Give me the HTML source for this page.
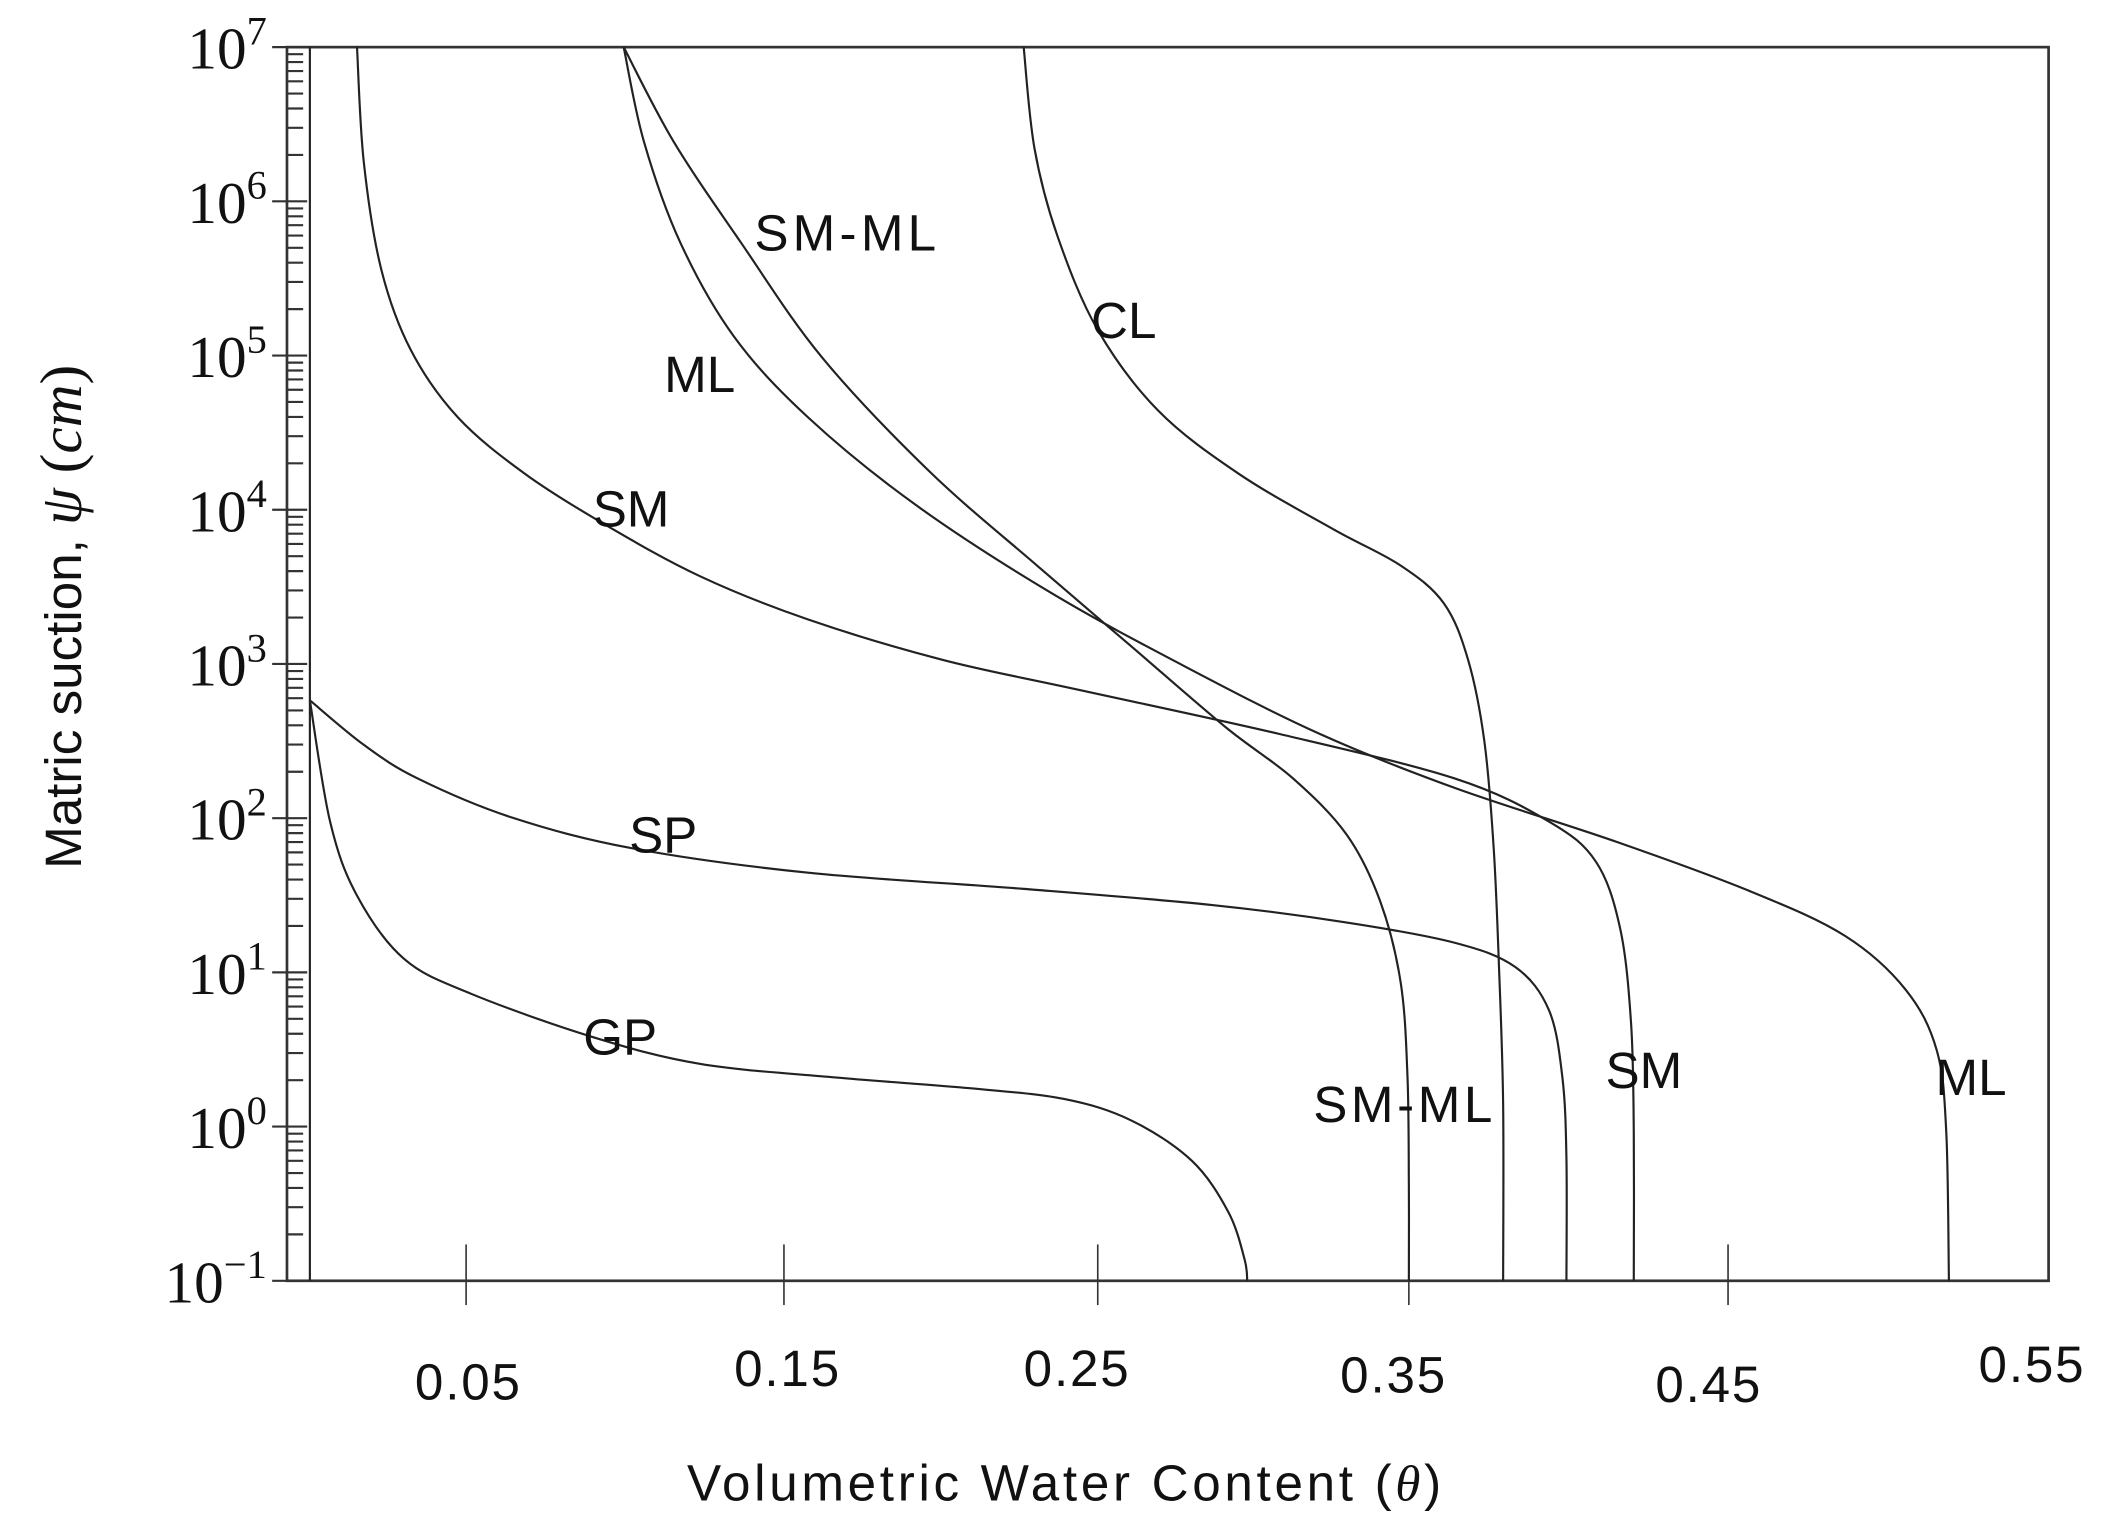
<!DOCTYPE html>
<html><head><meta charset="utf-8"><style>
html,body{margin:0;padding:0;background:#fff}
svg{display:block}
.s{font-family:"Liberation Sans",sans-serif;font-size:38px;fill:#111}
.r{font-family:"Liberation Serif",serif;fill:#111}
path{fill:none;stroke:#222;stroke-width:1.6}
</style></head><body>
<svg id="g" width="2112" height="1534" viewBox="0 0 1568 1139" xmlns="http://www.w3.org/2000/svg">
<rect x="213" y="35" width="1308" height="916" fill="none" stroke="#333" stroke-width="2"/>
<g id="ticks" stroke="#333" stroke-width="1.6"></g>
<line x1="230" y1="35" x2="230" y2="951" stroke="#222" stroke-width="1.6"/>
<g id="curves"></g>
<g class="s">
<text x="560" y="186" textLength="135">SM-ML</text>
<text x="810" y="251">CL</text>
<text x="493" y="291">ML</text>
<text x="440" y="391">SM</text>
<text x="467" y="633">SP</text>
<text x="433" y="783">GP</text>
<text x="975" y="833" textLength="133">SM-ML</text>
<text x="1192" y="808">SM</text>
<text x="1437" y="813">ML</text>
</g>
<g class="s" style="font-size:38px" text-anchor="middle">
<text x="347" y="1039" textLength="78">0.05</text><text x="584" y="1029" textLength="78">0.15</text><text x="799" y="1029" textLength="78">0.25</text>
<text x="1034" y="1034" textLength="78">0.35</text><text x="1268" y="1041" textLength="78">0.45</text><text x="1508" y="1026" textLength="78">0.55</text>
</g>
<text class="s" x="790" y="1114" text-anchor="middle" textLength="560" font-size="40">Volumetric Water Content (<tspan class="r" font-style="italic">θ</tspan>)</text>
<text class="s" font-size="40" transform="translate(60,458) rotate(-90)" text-anchor="middle">Matric suction, <tspan class="r" font-style="italic" font-size="44">ψ</tspan><tspan class="r" font-size="44"> (<tspan font-style="italic">cm</tspan>)</tspan></text>
<g id="yl" class="r" font-size="44" text-anchor="end"></g>
</svg>
<script>
var t=document.getElementById('ticks'),yl=document.getElementById('yl'),h='',l='';
function Y(e){return 35+(7-e)*114.5;}
for(var e=-1;e<=7;e++){var y=Y(e);h+='<line x1="202" y1="'+y+'" x2="228" y2="'+y+'"/>';
var sup=e<0?'\u22121':e;l+='<text x="198" y="'+(y+16)+'">10<tspan dy="-18" font-size="30">'+sup+'</tspan></text>';
if(e<7)for(var k=2;k<10;k++){var yy=Y(e+Math.log10(k));h+='<line x1="213" y1="'+yy+'" x2="225" y2="'+yy+'"/>';}}
[346,582,815,1046,1283].forEach(function(x){h+='<line x1="'+x+'" y1="924" x2="'+x+'" y2="969" stroke-width="1.2"/>';});
t.innerHTML=h;yl.innerHTML=l;
function cr(p){var d='M'+p[0][0]+','+p[0][1];for(var i=0;i<p.length-1;i++){var a=p[i-1]||p[i],b=p[i],c=p[i+1],n=p[i+2]||c;
d+=' C'+(b[0]+(c[0]-a[0])/6)+','+(b[1]+(c[1]-a[1])/6)+' '+(c[0]-(n[0]-b[0])/6)+','+(c[1]-(n[1]-b[1])/6)+' '+c[0]+','+c[1];}return '<path d="'+d+'"/>';}
var C=[
[[230,520],[245,610],[265,665],[300,712],[350,738],[440,770],[520,790],[620,800],[720,808],[790,816],[840,832],[885,862],[912,900],[924,935],[926,951]],
[[230,520],[270,553],[310,578],[380,607],[470,630],[600,648],[760,660],[900,672],[1000,685],[1080,700],[1125,718],[1150,750],[1160,800],[1163,860],[1163,951]],
[[265,35],[270,120],[283,200],[305,260],[340,310],[390,352],[450,390],[520,428],[600,460],[700,490],[800,512],[950,545],[1080,578],[1150,610],[1185,640],[1203,690],[1211,760],[1213,840],[1213,951]],
[[463,35],[478,105],[505,180],[545,250],[600,310],[680,375],[780,440],[880,495],[980,545],[1080,585],[1200,625],[1300,662],[1370,695],[1415,735],[1438,780],[1445,840],[1447,951]],
[[463,35],[500,105],[550,180],[610,265],[690,350],[770,420],[840,480],[910,540],[960,578],[1000,620],[1025,670],[1040,730],[1045,800],[1046,880],[1046,951]],
[[760,35],[768,110],[785,175],[815,245],[860,305],[920,352],[990,393],[1040,420],[1072,448],[1090,490],[1102,550],[1109,630],[1113,720],[1116,820],[1116,951]]];
document.getElementById('curves').innerHTML=C.map(cr).join('');
</script>
</body></html>
